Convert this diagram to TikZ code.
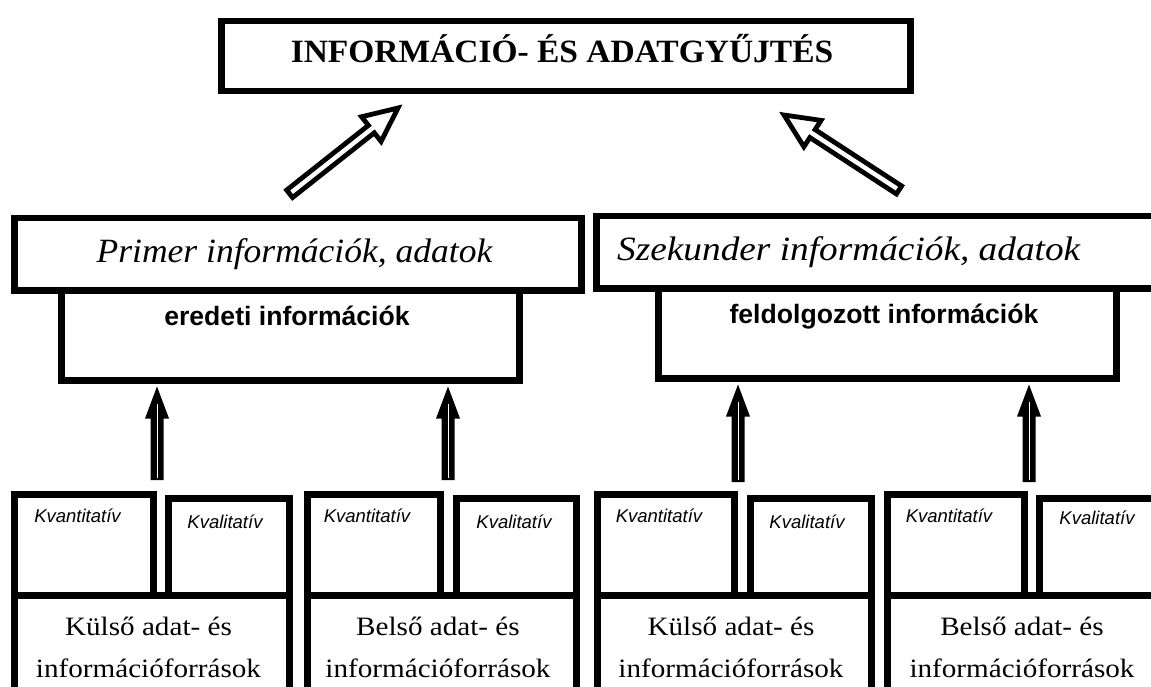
\documentclass[tikz,border=0pt]{standalone}
\usepackage{fontspec}
\usepackage{graphicx}
\setmainfont{Liberation Serif}
\setsansfont{Liberation Sans}
\usetikzlibrary{calc}
\newcommand\hsc[2]{\scalebox{#1}[1]{#2}}
\newcommand\boxtxt[1]{\begin{tabular}[t]{@{}c@{}}#1\end{tabular}}
\begin{document}
\begin{tikzpicture}[x=1pt,y=-1pt,
  box/.style={draw, line width=6.5pt, fill=white, rectangle, inner sep=0pt, anchor=north west},
  harrow/.style={draw, line width=4.8pt, fill=white, line join=miter},
  titlefont/.style={font=\bfseries\fontsize{32.5}{36}\selectfont},
  catfont/.style={font=\itshape\fontsize{34}{38}\selectfont},
  subfont/.style={font=\sffamily\bfseries\fontsize{26.6}{30}\selectfont},
  kindfont/.style={font=\sffamily\itshape\fontsize{18.5}{22}\selectfont},
  srcfont/.style={font=\fontsize{26.5}{42}\selectfont},
  lbl/.style={inner sep=0pt, anchor=base}
]
\useasboundingbox (0,0) rectangle (1151,687);
\fill[white] (0,0) rectangle (1151,687);

% top level boxes
\node[box, minimum width=689, minimum height=70] (top) at (218,18) {};
\node[box, minimum width=458, minimum height=90] (ered) at (58,287) {};
\node[box, minimum width=458, minimum height=90] (feld) at (655,285) {};
\node[box, minimum width=567, minimum height=72] (prim) at (11,215) {};
\node[box, minimum width=569, minimum height=72] (szek) at (593,213) {};

% bottom groups
\node[box, minimum width=139, minimum height=101] (kn1) at (11,491) {};
\node[box, minimum width=121, minimum height=97] (kl1) at (165,495) {};
\node[box, minimum width=275, minimum height=98] (src1) at (11,592) {};
\node[box, minimum width=133, minimum height=101] (kn2) at (304,491) {};
\node[box, minimum width=120, minimum height=97] (kl2) at (453,495) {};
\node[box, minimum width=269, minimum height=98] (src2) at (304,592) {};
\node[box, minimum width=137, minimum height=101] (kn3) at (594,491) {};
\node[box, minimum width=121, minimum height=97] (kl3) at (747,495) {};
\node[box, minimum width=274, minimum height=98] (src3) at (594,592) {};
\node[box, minimum width=137, minimum height=101] (kn4) at (884,491) {};
\node[box, minimum width=126, minimum height=97] (kl4) at (1036,495) {};
\node[box, minimum width=278, minimum height=98] (src4) at (884,592) {};

% texts
\node[lbl, titlefont] (ttl) at (562,63) {\hsc{1.03}{INFORMÁCIÓ- ÉS ADATGYŰJTÉS}};
\node[lbl, catfont] (primt) at (294.5,262) {\hsc{1.045}{Primer információk, adatok}};
\node[lbl, catfont, anchor=base west] (szekt) at (617,260) {\hsc{1.097}{Szekunder információk, adatok}};
\node[lbl, subfont] (eredt) at (287,325) {eredeti információk};
\node[lbl, subfont] (feldt) at (884,323) {feldolgozott információk};

\node[lbl, kindfont] (kn1t) at (77.5,522) {Kvantitatív};
\node[lbl, kindfont] (kl1t) at (225,528) {Kvalitatív};
\node[lbl, kindfont] (kn2t) at (367,522) {Kvantitatív};
\node[lbl, kindfont] (kl2t) at (514,528) {Kvalitatív};
\node[lbl, kindfont] (kn3t) at (659,522) {Kvantitatív};
\node[lbl, kindfont] (kl3t) at (807,528) {Kvalitatív};
\node[lbl, kindfont] (kn4t) at (949,522) {Kvantitatív};
\node[lbl, kindfont] (kl4t) at (1097,524) {Kvalitatív};

\node[lbl, srcfont] (src1t) at (148.5,635) {\boxtxt{\hsc{1.1}{Külső adat- és}\\\hsc{1.1}{információforrások}}};
\node[lbl, srcfont] (src2t) at (438,635) {\boxtxt{\hsc{1.1}{Belső adat- és}\\\hsc{1.1}{információforrások}}};
\node[lbl, srcfont] (src3t) at (731,635) {\boxtxt{\hsc{1.1}{Külső adat- és}\\\hsc{1.1}{információforrások}}};
\node[lbl, srcfont] (src4t) at (1022,635) {\boxtxt{\hsc{1.1}{Belső adat- és}\\\hsc{1.1}{információforrások}}};

% vertical arrows
\coordinate (v1s) at (157,480);
\coordinate (v2s) at (448,480);
\coordinate (v3s) at (738,482);
\coordinate (v4s) at (1029,482);
\foreach \s/\b in {v1s/ered, v2s/ered, v3s/feld, v4s/feld}{
  \coordinate (tip) at ($(\s |- \b.south)+(0,3)$);
  \fill[black] ($(\s)+(-6.5,0)$) -- ($(tip)+(-6.5,32)$) -- ($(tip)+(-12,32)$) -- (tip)
     -- ($(tip)+(12,32)$) -- ($(tip)+(6.5,32)$) -- ($(\s)+(6.5,0)$) -- cycle;
  \draw[white, line width=0.9pt] ($(\s)+(0,-2)$) -- ($(tip)+(0,17)$);
}

% hollow diagonal arrows
\coordinate (la0) at (289.6,193.8);
\coordinate (la1) at (398,108);
\coordinate (ra0) at (899,190);
\coordinate (ra1) at (784,115);
\foreach \a/\b in {la0/la1, ra0/ra1}{
  \draw[harrow] let \p1=($(\b)-(\a)$), \n1={veclen(\x1,\y1)}, \n2={atan2(\y1,\x1)} in
    [shift={(\a)}, rotate=\n2]
    (0pt,-4.75pt) -- (\n1-34pt,-4.75pt) -- (\n1-34pt,-15.75pt) -- (\n1,0pt)
    -- (\n1-34pt,15.75pt) -- (\n1-34pt,4.75pt) -- (0pt,4.75pt) -- cycle;
}
\end{tikzpicture}
\end{document}
